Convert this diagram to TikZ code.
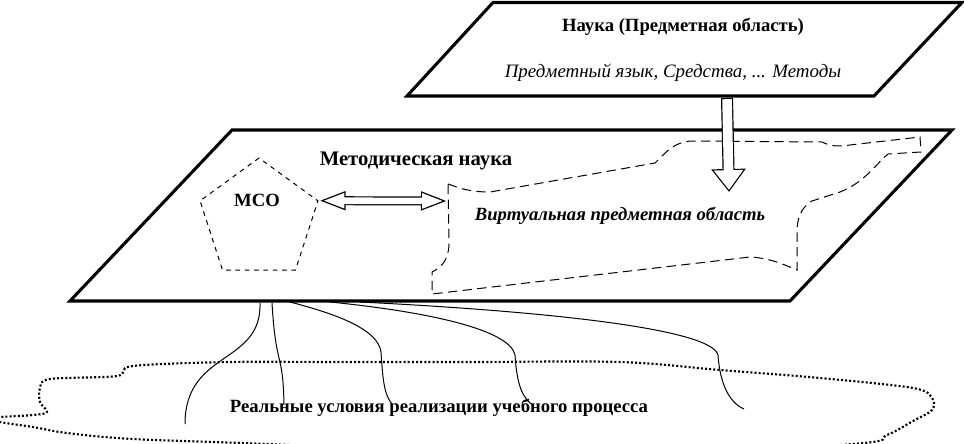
\documentclass[tikz,border=0pt]{standalone}
\usepackage{fontspec}
\setmainfont{Liberation Serif}
\usetikzlibrary{arrows.meta,positioning,shapes.geometric}

\begin{document}
\begin{tikzpicture}[
		x=0.75pt, y=-0.75pt,
		font=\fontsize{14}{16}\selectfont,
		plane/.style={draw, line width=2.3pt, line join=miter, fill=white},
		dashline/.style={line width=0.75pt, dash pattern=on 7pt off 4pt},
		fivegon/.style={draw, regular polygon, regular polygon sides=5, minimum size=93pt, inner sep=0pt, line width=0.75pt, dash pattern=on 3.5pt off 3.5pt},
		dotline/.style={line width=1.6pt, dash pattern=on 1.5pt off 1.6pt},
		thread/.style={line width=0.75pt},
		title/.style={font=\fontsize{14}{16}\selectfont\bfseries},
		biarrow/.style={line width=6.75pt, {Triangle[length=20.25pt, width=12.75pt]}-{Triangle[length=20.25pt, width=12.75pt]},
			postaction={draw=white, line width=4.95pt, shorten <=3pt, shorten >=3pt, {Triangle[length=16.35pt, width=10.3pt]}-{Triangle[length=16.35pt, width=10.3pt]}}},
		downarrow/.style={line width=9pt, -{Triangle[length=17.25pt, width=24.75pt]},
			postaction={draw=white, line width=7.2pt, shorten <=0.9pt, shorten >=1.55pt, -{Triangle[length=14.8pt, width=21.2pt]}}}
		]
		\useasboundingbox (0,0) rectangle (964,443);
		
		% Middle plane with the virtual domain
		\draw[plane] (232,130) -- (952,130) -- (790,301) -- (70,301) -- cycle;
		\node[title, font=\fontsize{15.5}{18}\selectfont\bfseries] (metod) at (416,161) {Методическая наука};
		\draw[dashline] (448,184) .. controls (455,186) and (465,192) .. (490,192) -- (655,163)
		.. controls (668,150) and (674,143) .. (690,141) -- (822,142) .. controls (830,146) and (838,147) .. (850,145)
		-- (920,137) -- (921,152) -- (888,154) .. controls (875,165) and (865,182) .. (840,192) -- (812,201)
		.. controls (800,208) and (797,220) .. (797,232) -- (797,270) .. controls (785,265) and (770,258) .. (750,257)
		-- (432,294) -- (432,272) .. controls (440,268) and (448,262) .. (449,245) -- cycle;
		\coordinate (virtleft) at (448,201);
		\coordinate (virttip) at (729,192);
		\node[font=\fontsize{14}{16}\selectfont\bfseries\itshape] (virt) at (620,216) {Виртуальная предметная область};
		
		% MSO pentagon
		\node[fivegon] (mso) at (259,220) {};
		\node[title] (msotext) at (257,200) {МСО};
		\draw[biarrow] (mso.corner 5) -- (virtleft);
		
		% Upper plane (science)
		\draw[plane] (493,2.5) -- (962,2.5) -- (874,96) -- (407,96) -- cycle;
		\node[title] (nauka) at (683,27) {Наука (Предметная область)};
		\node[font=\fontsize{14.2}{16}\selectfont\itshape] (means) at (673,73) {Предметный язык, Средства, ... Методы};
		\coordinate (naukabottom) at (727,98);
		\draw[downarrow] (naukabottom) -- (virttip);
		
		% Real conditions cloud
		\draw[dotline] plot[smooth cycle, tension=0.55] coordinates {(133,366) (230,362) (330,362) (470,362) (620,362)
			(720,370) (820,378) (913,388) (932,398) (932,410) (913,421) (887,435) (853,444) (600,458) (267,444)
			(133,439) (67,433) (33,427) (0,422) (-6,418) (0,417) (33,415) (47,412) (40,402) (40,388) (50,379) (117,376)};
		\node[title] (real) at (439,408) {Реальные условия реализации учебного процесса};
		
		% Threads from the plane down to the real conditions
		\draw[thread] (260,303) .. controls (262,365) and (185,350) .. (185,424);
		\draw[thread] (272,303) .. controls (276,370) and (283,350) .. (284,405);
		\draw[thread] (290,302) .. controls (340,315) and (378,330) .. (381,352) .. controls (383,385) and (385,395) .. (392,404);
		\draw[thread] (330,302) .. controls (430,312) and (510,330) .. (515,355) .. controls (517,385) and (522,398) .. (534,406);
		\draw[thread] (360,302) .. controls (560,312) and (712,330) .. (718,355) .. controls (720,385) and (730,403) .. (744,409);
	\end{tikzpicture}
\end{document}
